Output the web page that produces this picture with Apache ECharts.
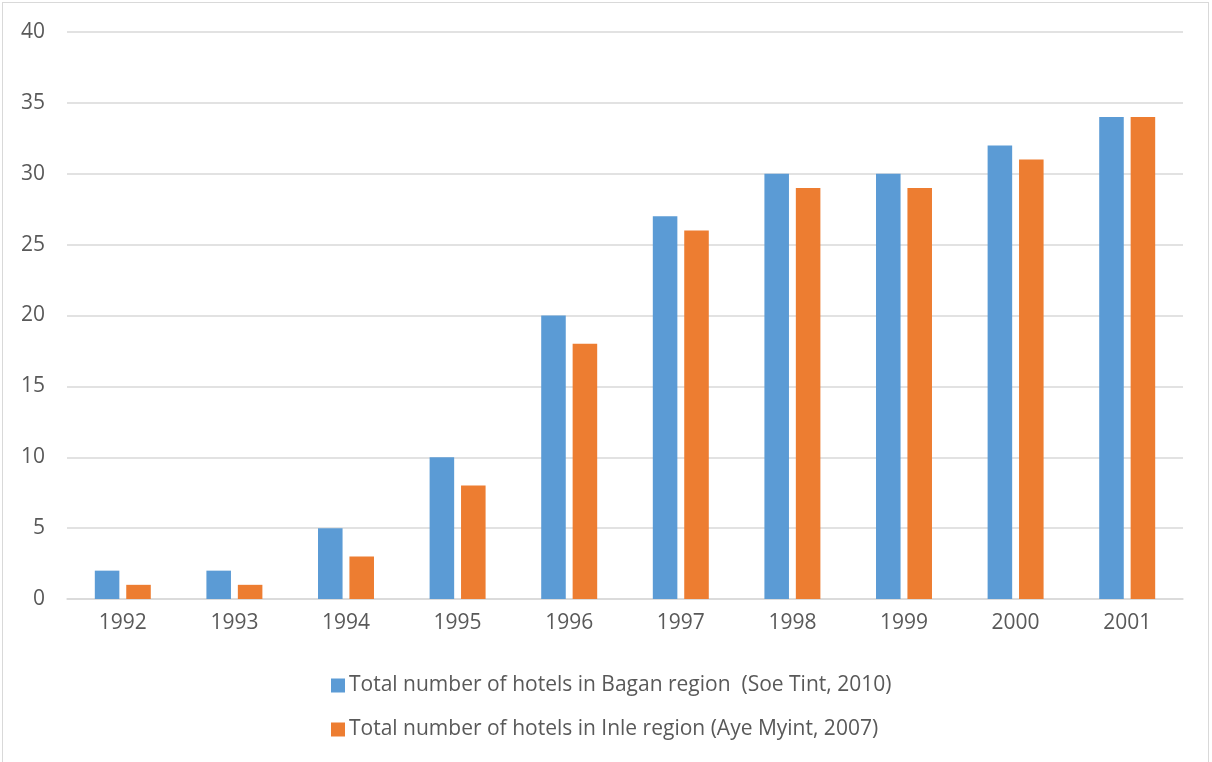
<!DOCTYPE html>
<html><head><meta charset="utf-8">
<script src="https://cdn.jsdelivr.net/npm/echarts@6/dist/echarts.min.js"></script>
<style>html,body{margin:0;padding:0;background:#fff}#c{width:1212px;height:762px}
#frame{position:absolute;left:2px;top:2px;width:1207px;height:770px;border:1px solid #d9d9d9;box-sizing:border-box;pointer-events:none}</style>
</head><body><div id="c"></div><div id="frame"></div>
<script>
const categories = ['1992','1993','1994','1995','1996','1997','1998','1999','2000','2001'];
const bagan = [2,2,5,10,20,27,30,30,32,34];
const inle = [1,1,3,8,18,26,29,29,31,34];
const seriesNames = ['Total number of hotels in Bagan region  (Soe Tint, 2010)','Total number of hotels in Inle region (Aye Myint, 2007)'];
const chart = echarts.init(document.getElementById('c'));
const font = 'Open Sans';
chart.setOption({
  animation:false,
  grid:{left:67,right:29,top:32,bottom:163,containLabel:false},
  legend:{orient:'vertical',left:326,top:670,itemWidth:14,itemHeight:14,itemGap:23,icon:'rect',
    textStyle:{fontFamily:font,fontSize:21,color:'#595959',padding:[0,0,0,-1]},data:seriesNames},
  xAxis:{type:'category',data:categories,axisTick:{show:false},
    axisLine:{lineStyle:{color:'#d9d9d9',width:1.5}},
    axisLabel:{fontFamily:font,fontSize:21,color:'#595959',margin:14}},
  yAxis:{type:'value',min:0,max:40,interval:5,axisLine:{show:false},axisTick:{show:false},
    splitLine:{lineStyle:{color:'#d9d9d9',width:1.5}},
    axisLabel:{fontFamily:font,fontSize:21,color:'#595959',margin:22}},
  series:[
    {name:seriesNames[0],type:'bar',data:bagan,barWidth:'22%',barGap:'28%',barCategoryGap:'49%',itemStyle:{color:'#5b9bd5'}},
    {name:seriesNames[1],type:'bar',data:inle,barWidth:'22%',barGap:'28%',itemStyle:{color:'#ed7d31'}}
  ]
});
</script></body></html>
